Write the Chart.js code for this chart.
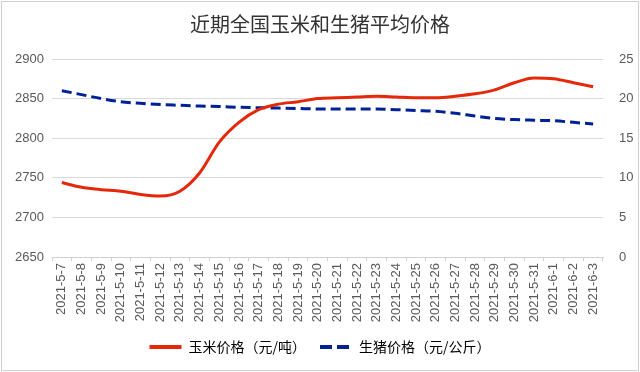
<!DOCTYPE html>
<html>
<head>
<meta charset="utf-8">
<script src="https://cdn.jsdelivr.net/npm/chart.js@4"></script>
<style>
  html, body { margin: 0; padding: 0; background: #fff; }
  #wrap { width: 640px; height: 372px; }
</style>
</head>
<body>
<div id="wrap"><canvas id="myChart" width="640" height="372"></canvas></div>
<script>
const dates = ['2021-5-7', '2021-5-8', '2021-5-9', '2021-5-10', '2021-5-11', '2021-5-12', '2021-5-13',
  '2021-5-14', '2021-5-15', '2021-5-16', '2021-5-17', '2021-5-18', '2021-5-19', '2021-5-20',
  '2021-5-21', '2021-5-22', '2021-5-23', '2021-5-24', '2021-5-25', '2021-5-26', '2021-5-27',
  '2021-5-28', '2021-5-29', '2021-5-30', '2021-5-31', '2021-6-1', '2021-6-2', '2021-6-3'];
const cornPrice = [2744, 2738, 2735, 2733, 2729, 2727, 2733, 2756, 2795, 2820, 2836, 2843, 2846, 2850,
  2851, 2852, 2853, 2852, 2851, 2851, 2853, 2856, 2861, 2870, 2876, 2875, 2870, 2865];
const pigPrice = [21.0, 20.5, 20.0, 19.6, 19.4, 19.25, 19.15, 19.05, 19.0, 18.9, 18.85, 18.8, 18.75, 18.7,
  18.7, 18.7, 18.7, 18.6, 18.5, 18.4, 18.15, 17.8, 17.5, 17.35, 17.27, 17.2, 17.0, 16.8];
const leftTicks = [2650, 2700, 2750, 2800, 2850, 2900];
const rightTicks = [0, 5, 10, 15, 20, 25];

const cjk = '"Noto Sans CJK SC", "Liberation Sans", sans-serif';
const latin = '"Liberation Sans", Arial, sans-serif';
Chart.defaults.font.family = cjk;
Chart.defaults.color = '#595959';

const frame = {
  id: 'frame',
  beforeDraw(chart) {
    const c = chart.ctx;
    c.save();
    c.fillStyle = '#fff';
    c.fillRect(0, 0, chart.width, chart.height);
    c.strokeStyle = '#d0d0d0';
    c.lineWidth = 1;
    c.strokeRect(1.5, 1.5, chart.width - 3, chart.height - 3);
    c.restore();
  }
};

new Chart(document.getElementById('myChart'), {
  type: 'line',
  data: {
    labels: dates,
    datasets: [{
      label: '玉米价格（元/吨）',
      data: cornPrice,
      yAxisID: 'y',
      borderColor: 'rgb(230, 40, 10)',
      backgroundColor: 'rgb(230, 40, 10)',
      borderWidth: 3,
      pointRadius: 0,
      cubicInterpolationMode: 'monotone'
    }, {
      label: '生猪价格（元/公斤）',
      data: pigPrice,
      yAxisID: 'y1',
      borderColor: 'rgb(0, 32, 150)',
      backgroundColor: 'rgb(0, 32, 150)',
      borderWidth: 3,
      borderDash: [10, 5],
      pointRadius: 0,
      cubicInterpolationMode: 'monotone'
    }]
  },
  options: {
    responsive: false,
    animation: false,
    layout: { padding: { left: 6, right: 6, top: 4, bottom: 8 } },
    scales: {
      x: {
        offset: true,
        grid: { drawOnChartArea: false, drawTicks: true, tickLength: 4, color: '#d0d0d0', offset: true },
        border: { color: '#d0d0d0' },
        ticks: { minRotation: 90, maxRotation: 90, autoSkip: false, font: { size: 13, family: latin }, padding: 2 },
        afterFit(s) { s.height = 69; }
      },
      y: {
        position: 'left',
        min: 2650, max: 2900,
        afterBuildTicks(s) { s.ticks = leftTicks.map(v => ({ value: v })); },
        grid: { color: '#d9d9d9', drawTicks: false },
        border: { display: false },
        ticks: { font: { size: 13, family: latin }, padding: 8, callback: v => String(v) },
        afterFit(s) { s.width = 46; }
      },
      y1: {
        position: 'right',
        min: 0, max: 25,
        afterBuildTicks(s) { s.ticks = rightTicks.map(v => ({ value: v })); },
        grid: { display: false },
        border: { display: false },
        ticks: { font: { size: 13, family: latin }, padding: 8, callback: v => String(v) },
        afterFit(s) { s.width = 31; }
      }
    },
    plugins: {
      title: {
        display: true,
        text: '近期全国玉米和生猪平均价格',
        color: '#333',
        font: { size: 20, weight: 'normal' },
        padding: { top: 8, bottom: 23 }
      },
      legend: {
        position: 'bottom',
        labels: {
          usePointStyle: true,
          pointStyleWidth: 32,
          boxHeight: 3,
          font: { size: 14 },
          padding: 14,
          generateLabels(chart) {
            return chart.data.datasets.map((d, i) => ({
              text: d.label,
              pointStyle: 'line',
              fillStyle: d.borderColor,
              strokeStyle: d.borderColor,
              lineWidth: 4,
              lineDash: d.borderDash ? [12, 5] : [],
              datasetIndex: i
            }));
          }
        }
      },
      tooltip: { enabled: false }
    }
  },
  plugins: [frame]
});
</script>
</body>
</html>
